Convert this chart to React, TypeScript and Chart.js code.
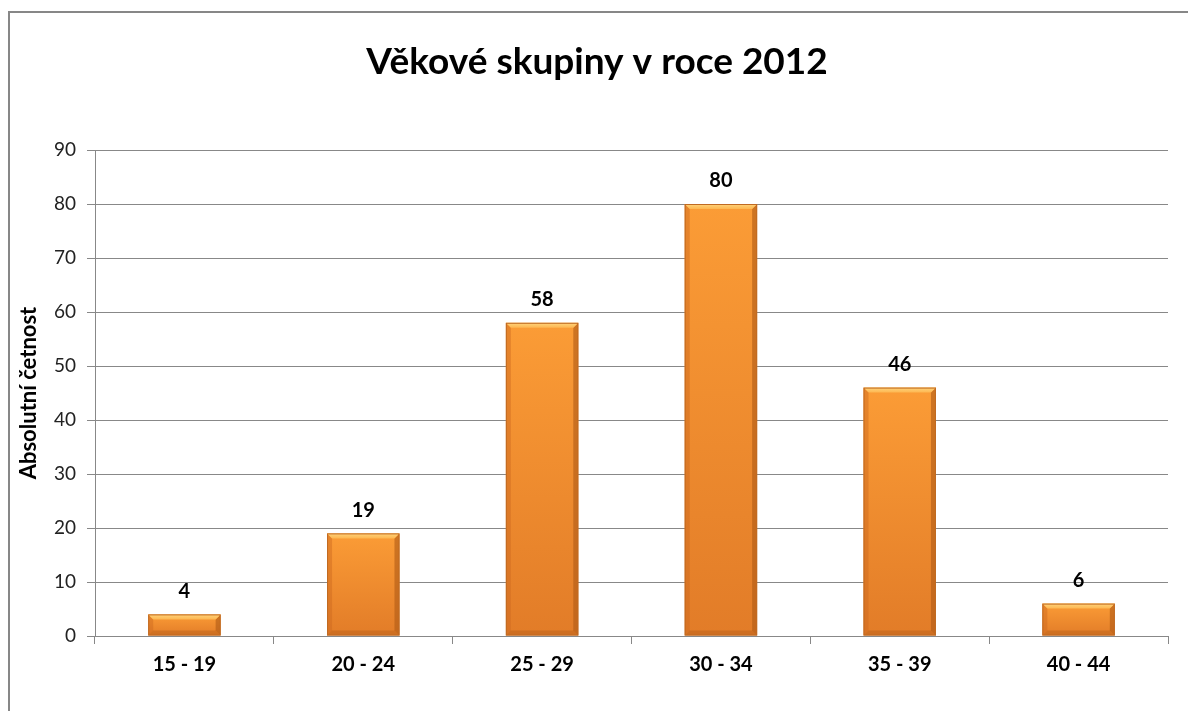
import React, { useEffect, useRef } from "react";
import { Chart, registerables } from "chart.js";

Chart.register(...registerables);

const categories = ["15 - 19", "20 - 24", "25 - 29", "30 - 34", "35 - 39", "40 - 44"];
const counts = [4, 19, 58, 80, 46, 6];
const yTicks = [0, 10, 20, 30, 40, 50, 60, 70, 80, 90];
const titleText = "Věkové skupiny v roce 2012";
const yTitle = "Absolutní četnost";

const FONT = "Lato, 'Open Sans', sans-serif";

const framePlugin = {
  id: "frame",
  beforeDraw(chart: any) {
    const { ctx, width, height } = chart;
    ctx.save();
    ctx.fillStyle = "#ffffff";
    ctx.fillRect(0, 0, width, height);
    ctx.fillStyle = "#878787";
    ctx.fillRect(0, 3, width, 2);
    ctx.fillRect(0, 3, 2, height);
    // chart title
    ctx.fillStyle = "#000000";
    ctx.font = `bold 37px ${FONT}`;
    ctx.textAlign = "center";
    ctx.textBaseline = "middle";
    ctx.fillText(titleText, width / 2 - 5, 54);
    ctx.restore();
  },
};

const bevelPlugin = {
  id: "bevel",
  afterDatasetsDraw(chart: any) {
    const { ctx } = chart;
    const meta = chart.getDatasetMeta(0);
    ctx.save();
    meta.data.forEach((bar: any, i: number) => {
      const w = bar.width;
      const l = bar.x - w / 2;
      const r = bar.x + w / 2;
      const t = bar.y;
      const b = bar.base;
      const h = b - t;
      const bv = Math.min(5, h / 2);
      const g = ctx.createLinearGradient(0, t, 0, b);
      g.addColorStop(0, "#FB9C36");
      g.addColorStop(1, "#E27C28");
      ctx.fillStyle = g;
      ctx.fillRect(l, t, w, h);
      // left bevel
      ctx.fillStyle = "rgba(205,105,30,0.45)";
      ctx.beginPath();
      ctx.moveTo(l, t);
      ctx.lineTo(l + bv, t + bv);
      ctx.lineTo(l + bv, b - bv);
      ctx.lineTo(l, b);
      ctx.closePath();
      ctx.fill();
      // right bevel
      ctx.fillStyle = "rgba(175,90,22,0.6)";
      ctx.beginPath();
      ctx.moveTo(r, t);
      ctx.lineTo(r - bv, t + bv);
      ctx.lineTo(r - bv, b - bv);
      ctx.lineTo(r, b);
      ctx.closePath();
      ctx.fill();
      // top bevel highlight
      const tg = ctx.createLinearGradient(0, t, 0, t + bv);
      tg.addColorStop(0, "#FFD47C");
      tg.addColorStop(1, "#FDB650");
      ctx.fillStyle = tg;
      ctx.beginPath();
      ctx.moveTo(l, t);
      ctx.lineTo(r, t);
      ctx.lineTo(r - bv, t + bv);
      ctx.lineTo(l + bv, t + bv);
      ctx.closePath();
      ctx.fill();
      // bottom bevel subtle shadow
      ctx.fillStyle = "rgba(170,85,20,0.35)";
      ctx.beginPath();
      ctx.moveTo(l, b);
      ctx.lineTo(r, b);
      ctx.lineTo(r - bv, b - bv);
      ctx.lineTo(l + bv, b - bv);
      ctx.closePath();
      ctx.fill();
      // outline
      ctx.strokeStyle = "#C06A22";
      ctx.lineWidth = 1;
      ctx.strokeRect(l + 0.5, t + 0.5, w - 1, h - 1);
      // value label
      ctx.fillStyle = "#000000";
      ctx.font = `bold 20px ${FONT}`;
      ctx.textAlign = "center";
      ctx.textBaseline = "middle";
      ctx.fillText(String(counts[i]), bar.x, t - 23);
    });
    ctx.restore();
  },
};

export default function App() {
  const ref = useRef<HTMLCanvasElement | null>(null);
  useEffect(() => {
    if (!ref.current) return;
    const chart = new Chart(ref.current, {
      type: "bar",
      data: {
        labels: categories,
        datasets: [
          {
            data: counts,
            backgroundColor: "rgba(0,0,0,0)",
            borderWidth: 0,
            barPercentage: 0.405,
            categoryPercentage: 1,
          },
        ],
      },
      options: {
        animation: false,
        responsive: false,
        maintainAspectRatio: false,
        layout: { padding: { left: 0, top: 142, right: 28, bottom: 15 } },
        plugins: {
          legend: { display: false },
          tooltip: { enabled: false },
          title: { display: false },
        },
        scales: {
          x: {
            offset: true,
            grid: {
              display: true,
              offset: true,
              drawOnChartArea: false,
              drawTicks: true,
              tickLength: 8,
              color: "#888888",
            },
            border: { display: true, color: "#888888", width: 1 },
            ticks: {
              color: "#000000",
              font: { family: FONT, size: 20, weight: "bold" },
              padding: 9,
              maxRotation: 0,
            },
            afterFit(scale: any) {
              scale.height = 60;
            },
          },
          y: {
            min: 0,
            max: 90,
            afterBuildTicks(scale: any) {
              scale.ticks = yTicks.map((v) => ({ value: v }));
            },
            grid: {
              color: "#888888",
              tickLength: 8,
              drawTicks: true,
            },
            border: { display: true, color: "#888888", width: 1 },
            ticks: {
              color: "#222222",
              font: { family: FONT, size: 19 },
              padding: 11,
            },
            title: {
              display: true,
              text: yTitle,
              color: "#000000",
              font: { family: FONT, size: 22, weight: "bold" },
              padding: { top: 8, bottom: 0 },
            },
            afterFit(scale: any) {
              scale.width = 87;
            },
          },
        },
      },
      plugins: [framePlugin, bevelPlugin],
    });
    return () => chart.destroy();
  }, []);
  return (
    <div style={{ width: 1188, height: 703 }}>
      <canvas ref={ref} width={1188} height={703} style={{ display: "block" }} />
    </div>
  );
}
